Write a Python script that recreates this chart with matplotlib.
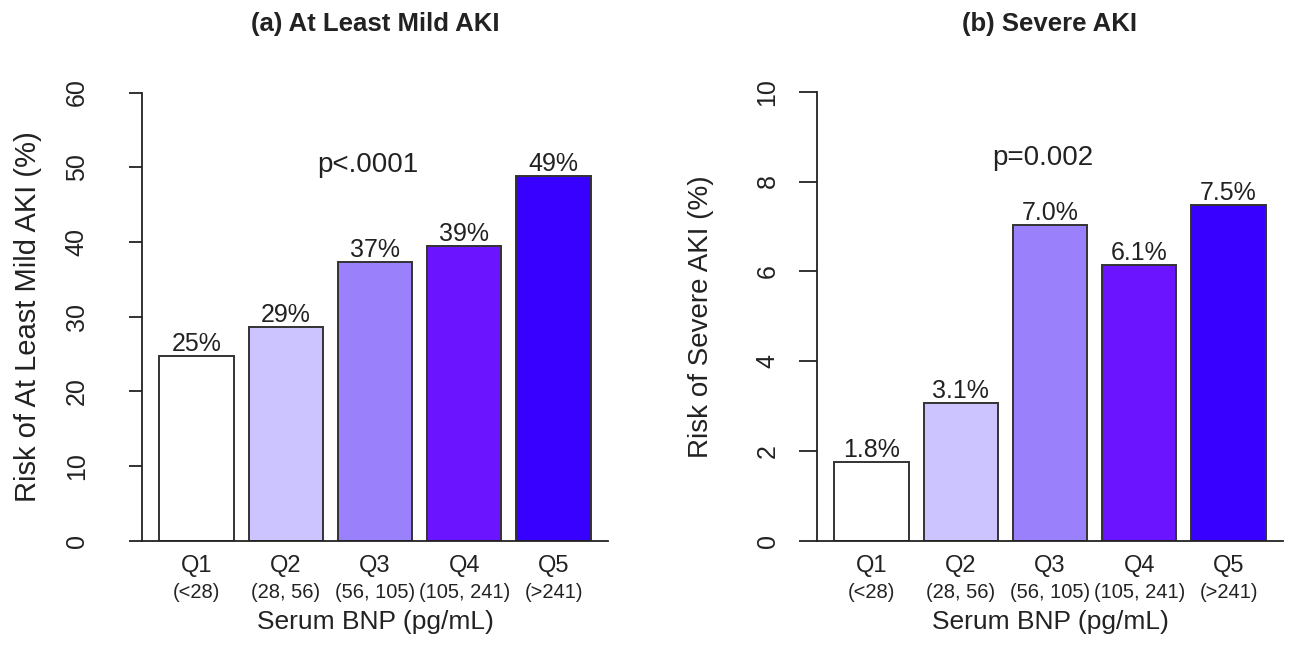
import numpy as np
import matplotlib
matplotlib.use("Agg")
import matplotlib.pyplot as plt
from matplotlib.transforms import blended_transform_factory

plt.rcParams['font.family'] = ['Liberation Sans', 'DejaVu Sans']

# BNP quintiles
quintiles = ["Q1", "Q2", "Q3", "Q4", "Q5"]
ranges = ["(<28)", "(28, 56)", "(56, 105)", "(105, 241)", "(>241)"]
bar_colors = ["#ffffff", "#ccc4ff", "#9b80fb", "#6a14ff", "#3700ff"]

# risk (%) per quintile
mild_risk = [24.7, 28.6, 37.3, 39.4, 48.8]
severe_risk = [1.76, 3.07, 7.03, 6.14, 7.47]

W, H = 1290, 648
TXT = "#222222"
fig = plt.figure(figsize=(W / 100, H / 100), dpi=100)


def px_axes(x0, x1, y_top, y_bot):
    return fig.add_axes([x0 / W, (H - y_bot) / H, (x1 - x0) / W, (y_bot - y_top) / H])


def draw_panel(ax, values, ymax, ystep, fmt, title, ylabel, ylab_size, ptext, py,
               tick_len, tick_pad, ylab_x):
    x = np.arange(len(values))
    ax.bar(x, values, width=1 / 1.2, color=bar_colors, edgecolor="#333333",
           linewidth=1.4, zorder=2)
    ax.set_xlim(-0.61, 4.61)
    ax.set_ylim(0, ymax)

    # value labels on top of each bar
    for xi, v in zip(x, values):
        ax.text(xi, v, fmt.format(v), ha="center", va="bottom", fontsize=18,
                color=TXT)

    ax.text(1.92, py, ptext, ha="center", va="center", fontsize=20, color=TXT)

    ax.spines["top"].set_visible(False)
    ax.spines["right"].set_visible(False)
    for s in ("left", "bottom"):
        ax.spines[s].set_color(TXT)
        ax.spines[s].set_linewidth(1.3)

    ax.set_yticks(np.arange(0, ymax + ystep / 2, ystep))
    ax.tick_params(axis="y", length=tick_len, width=1.3, color=TXT, labelsize=18,
                   labelcolor=TXT, pad=tick_pad)
    for lab in ax.get_yticklabels():
        lab.set_rotation(90)
        lab.set_va("center")
    ax.set_xticks([])

    # two-line category labels under the bars
    trans = blended_transform_factory(ax.transData, fig.transFigure)
    for xi, q, r in zip(x, quintiles, ranges):
        ax.text(xi, 1 - 566 / H, q, transform=trans, ha="center", va="center",
                fontsize=17, color=TXT)
        ax.text(xi, 1 - 593 / H, r, transform=trans, ha="center", va="center",
                fontsize=14.5, color=TXT)
    ax.text(2.0, 1 - 622 / H, "Serum BNP (pg/mL)", transform=trans,
            ha="center", va="center", fontsize=19, color=TXT)

    ax.text(ylab_x, 0.5, ylabel, transform=ax.transAxes, rotation=90,
            ha="center", va="center", fontsize=ylab_size, color=TXT)
    ax.text(2.0, 1 - 24 / H, title, transform=trans, ha="center", va="center",
            fontsize=18.5, fontweight="bold", color=TXT)


ax1 = px_axes(142, 608, 92.5, 540.7)
draw_panel(ax1, mild_risk, 60, 10, "{:.0f}%", "(a) At Least Mild AKI",
           "Risk of At Least Mild AKI (%)", 21, "p<.0001", 50.3,
           tick_len=9.4, tick_pad=29, ylab_x=(28 - 142) / 466)

ax2 = px_axes(817, 1283, 91.7, 540.7)
draw_panel(ax2, severe_risk, 10, 2, "{:.1f}%", "(b) Severe AKI",
           "Risk of Severe AKI (%)", 20, "p=0.002", 8.53,
           tick_len=13, tick_pad=14, ylab_x=(701 - 817) / 466)

fig.savefig("out.png", dpi=100, facecolor="white")
